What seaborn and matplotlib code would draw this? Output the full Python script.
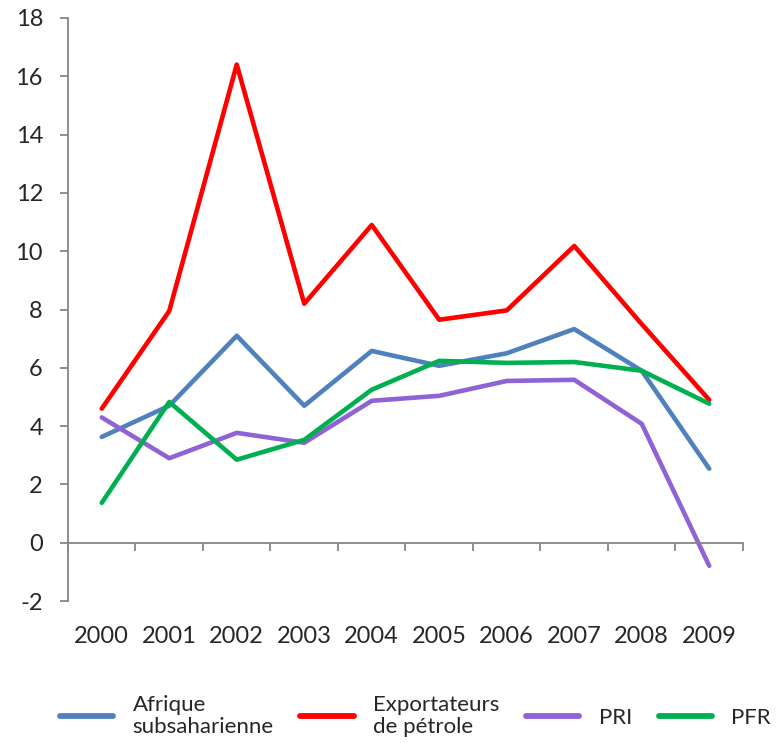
import matplotlib
matplotlib.use("Agg")
import matplotlib.pyplot as plt
import seaborn as sns
import pandas as pd
import numpy as np
from matplotlib.ticker import FixedLocator

years = ["2000", "2001", "2002", "2003", "2004", "2005", "2006", "2007", "2008", "2009"]
afrique = [3.63, 4.7, 7.1, 4.7, 6.58, 6.07, 6.5, 7.33, 5.9, 2.54]
exportateurs = [4.6, 7.95, 16.4, 8.2, 10.9, 7.65, 7.97, 10.18, 7.5, 4.9]
pri = [4.3, 2.9, 3.77, 3.43, 4.87, 5.04, 5.55, 5.59, 4.08, -0.79]
pfr = [1.37, 4.83, 2.85, 3.53, 5.25, 6.24, 6.17, 6.2, 5.9, 4.77]

series_names = ["Afrique\nsubsaharienne", "Exportateurs\nde pétrole", "PRI", "PFR"]
colors = ["#4F81BD", "#FF0000", "#8F63D6", "#00B050"]

rows = []
for name, vals in zip(series_names, [afrique, exportateurs, pri, pfr]):
    for i, (y, v) in enumerate(zip(years, vals)):
        rows.append({"pos": i, "year": y, "value": v, "series": name})
df = pd.DataFrame(rows)

sns.set_style("white")
plt.rcParams["font.family"] = ["Lato", "DejaVu Sans"]

fig = plt.figure(figsize=(7.78, 7.43), dpi=100)
ax = fig.add_axes([0.0874, 0.191, 0.955 - 0.0874, 0.9758 - 0.191])

sns.lineplot(data=df, x="pos", y="value", hue="series", palette=colors,
             hue_order=series_names, linewidth=3.3, ax=ax, sort=False)

ax.set_xlim(-0.5, len(years) - 0.5)
ax.set_ylim(-2, 18)
ax.set_yticks(np.arange(-2, 19, 2))
ax.set_yticklabels([str(v) for v in range(-2, 19, 2)], fontsize=17)

gray = "#868686"
for s in ["top", "right"]:
    ax.spines[s].set_visible(False)
ax.spines["left"].set_color(gray)
ax.spines["bottom"].set_color(gray)
ax.spines["left"].set_linewidth(1.3)
ax.spines["bottom"].set_linewidth(1.3)
ax.spines["bottom"].set_position(("data", 0))

ax.set_xticks(range(len(years)))
ax.set_xticklabels(years, fontsize=17)
ax.xaxis.set_minor_locator(FixedLocator(np.arange(-0.5, len(years), 1.0)))
ax.tick_params(axis="x", which="major", bottom=True, length=0, pad=60)
ax.tick_params(axis="x", which="minor", bottom=True, length=6, width=1.3, color=gray, direction="out")
ax.tick_params(axis="y", left=True, length=6, width=1.3, color=gray, direction="out", pad=12)
ax.set_xlabel("")
ax.set_ylabel("")

handles, labels = ax.get_legend_handles_labels()
ax.get_legend().remove()
leg = fig.legend(handles, labels, loc="center", bbox_to_anchor=(0.534, 0.036),
                 ncol=4, frameon=False, fontsize=16, handlelength=2.4,
                 columnspacing=1.2, handletextpad=0.87)
for t in leg.get_texts():
    t.set_linespacing(1.15)
for h in leg.legend_handles:
    h.set_linewidth(4.2)

fig.savefig("out.png", dpi=100)
